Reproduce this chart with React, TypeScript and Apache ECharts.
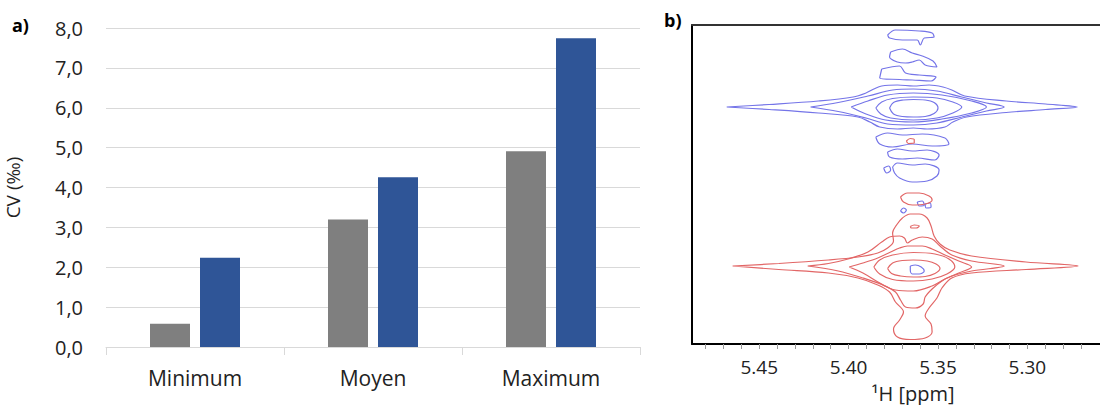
import React, { useEffect, useRef } from "react";
import * as echarts from "echarts";

// ---------- Panel a) data ----------
const categories = ["Minimum", "Moyen", "Maximum"];
const seriesGray = [0.58, 3.2, 4.91];
const seriesBlue = [2.24, 4.26, 7.74];

// ---------- Panel b) axis ticks (ppm) ----------
const ppmLabels = [5.3, 5.35, 5.4, 5.45];
const ppmTicks = [5.27, 5.28, 5.29, 5.3, 5.31, 5.32, 5.33, 5.34, 5.35, 5.36, 5.37, 5.38, 5.39, 5.4, 5.41, 5.42, 5.43, 5.44, 5.45, 5.46, 5.47, 5.48];

// ---------- Panel b) contour lines: [ppm (F2), F1 index] ----------
// blue multiplet
const blueC1 = [[5.3771, 236], [5.3749, 241.5], [5.3693, 244], [5.3638, 244.5], [5.3572, 244], [5.3522, 241.5], [5.35, 236], [5.3522, 230.5], [5.3572, 227.5], [5.3638, 227], [5.3699, 227.5], [5.3749, 230], [5.3771, 236]];
const blueC2 = [[5.3848, 236], [5.3815, 242], [5.3754, 245.5], [5.3638, 247], [5.3506, 246], [5.3417, 242], [5.3367, 237], [5.3417, 231], [5.3506, 226], [5.3638, 224], [5.3765, 226], [5.382, 230], [5.3848, 236]];
const blueC3 = [[5.3986, 237], [5.3892, 243], [5.3782, 249], [5.3638, 251], [5.3478, 249], [5.3312, 243], [5.3229, 237], [5.3312, 231], [5.3478, 225], [5.3638, 222], [5.3793, 224], [5.3903, 230], [5.3986, 237]];
const blueC4 = [[5.4213, 237], [5.4058, 241.5], [5.3892, 248], [5.3754, 254], [5.3638, 255], [5.3506, 253], [5.3367, 247], [5.3229, 241], [5.313, 237], [5.3229, 233], [5.3367, 227], [5.3506, 221], [5.3638, 219], [5.3782, 220], [5.3903, 226], [5.4058, 232.5], [5.4213, 237]];
const blueC5 = [[5.4682, 237], [5.4445, 239.5], [5.4169, 243], [5.3975, 247], [5.3903, 251], [5.3859, 255], [5.3815, 258], [5.3727, 259], [5.3638, 258], [5.355, 259], [5.3472, 257], [5.3423, 254], [5.3351, 248], [5.3119, 243], [5.2898, 240], [5.2721, 237], [5.2898, 234.5], [5.3119, 231.5], [5.334, 227], [5.3417, 222], [5.3461, 217], [5.3561, 215], [5.3638, 216], [5.3727, 215], [5.3826, 217], [5.3881, 222], [5.3948, 227], [5.4169, 231], [5.4445, 234.5], [5.4682, 237]];
const blueUp1 = [[5.3782, 309], [5.3738, 314], [5.3605, 313], [5.3533, 311], [5.3522, 307], [5.3577, 306], [5.3599, 299], [5.3616, 304], [5.3699, 304], [5.3771, 306], [5.3782, 309]];
const blueUp2 = [[5.3765, 292], [5.3699, 295], [5.3644, 291], [5.3588, 288], [5.3528, 283], [5.3506, 277], [5.3572, 279], [5.3605, 284], [5.3644, 282], [5.3682, 281], [5.3727, 282], [5.3771, 287], [5.3765, 292]];
const blueUp3 = [[5.3815, 275], [5.3715, 278], [5.3682, 271], [5.3605, 269], [5.3511, 267], [5.3539, 263], [5.3644, 264], [5.3715, 264.5], [5.3826, 266], [5.3815, 275]];
const blueLow1 = [[5.3848, 207], [5.3782, 211], [5.3699, 209], [5.3588, 210], [5.3461, 206], [5.3439, 200], [5.3533, 198], [5.3644, 200], [5.3754, 197], [5.3826, 200], [5.3848, 207]];
const blueLow2 = [[5.3782, 192], [5.3727, 195], [5.3644, 193], [5.3561, 194], [5.3494, 189], [5.3517, 184], [5.3616, 186], [5.3699, 185], [5.3771, 187], [5.3782, 192]];
const blueLow3 = [[5.3754, 177], [5.3727, 181], [5.3644, 179], [5.3572, 180], [5.3494, 174], [5.3506, 168], [5.3561, 163], [5.3644, 162], [5.3715, 166], [5.3743, 171], [5.3754, 177]];
const blueLow4 = [[5.3804, 176], [5.3776, 178], [5.3765, 174], [5.3787, 171], [5.3804, 176]];
const blueSmall1 = [[5.3616, 142], [5.3588, 143], [5.3577, 139], [5.3605, 138], [5.3616, 142]];
const blueSmall2 = [[5.3572, 140], [5.3544, 141], [5.3539, 137], [5.3566, 136], [5.3572, 140]];
const blueSmall3 = [[5.371, 133], [5.3693, 136], [5.3677, 134], [5.3693, 131], [5.371, 133]];
const blueInRed = [[5.3655, 78], [5.3627, 79], [5.3594, 77], [5.3577, 73], [5.3605, 70], [5.3644, 70], [5.3655, 74], [5.3655, 78]];

// red multiplet
const redC1 = [[5.3782, 75.5], [5.3754, 81], [5.3699, 83.5], [5.3638, 84], [5.3561, 83], [5.3511, 80], [5.3489, 75.5], [5.3517, 70.5], [5.3572, 67.5], [5.3638, 67], [5.371, 68], [5.376, 70.5], [5.3782, 75.5]];
const redC2 = [[5.3859, 77], [5.3826, 84], [5.3754, 89], [5.3638, 91.5], [5.3517, 90], [5.3439, 85], [5.3406, 77], [5.345, 70], [5.3533, 65], [5.3638, 63], [5.3754, 64.5], [5.3826, 70], [5.3859, 77]];
const redC3 = [[5.3997, 77], [5.392, 81], [5.3837, 86], [5.3765, 92], [5.3715, 96], [5.3671, 98], [5.3588, 98], [5.3533, 95], [5.3461, 89], [5.3384, 83], [5.3312, 77], [5.3384, 71], [5.3461, 65], [5.3533, 58], [5.3638, 53], [5.3738, 54], [5.3826, 61], [5.392, 71], [5.3997, 77]];
const redC4 = [[5.4229, 78], [5.4113, 80.5], [5.4003, 85], [5.3892, 92], [5.3815, 102], [5.3771, 107], [5.3715, 108], [5.3688, 106], [5.3671, 101], [5.3644, 104], [5.3588, 107], [5.3533, 105], [5.3489, 98], [5.3423, 89], [5.3312, 83], [5.313, 78], [5.3312, 73], [5.3423, 68], [5.3478, 63], [5.3533, 55], [5.3572, 47], [5.3583, 40], [5.3627, 36], [5.3682, 37], [5.371, 44], [5.3738, 52], [5.3809, 59], [5.392, 66], [5.4058, 73], [5.4229, 78]];
const redC5 = [[5.4649, 78], [5.439, 80.5], [5.4113, 84], [5.3948, 87], [5.3837, 91], [5.3782, 96], [5.3749, 103], [5.3754, 111], [5.3732, 119], [5.3699, 126], [5.3655, 130], [5.3605, 130], [5.3561, 126], [5.3539, 118], [5.3522, 108], [5.3489, 100], [5.3434, 94], [5.3312, 88], [5.3008, 82], [5.2716, 78], [5.3008, 74.5], [5.3312, 71], [5.3423, 66], [5.3478, 56], [5.3506, 46], [5.355, 36], [5.3572, 28], [5.3539, 20], [5.3533, 12], [5.3572, 6], [5.3655, 4.5], [5.3727, 7], [5.3749, 15], [5.3715, 24], [5.3693, 32], [5.3738, 42], [5.3771, 52], [5.3837, 59], [5.3948, 66], [5.4113, 71], [5.439, 74.5], [5.4649, 78]];
const redSmallTop = [[5.371, 147], [5.3671, 151], [5.3605, 151], [5.355, 148], [5.3533, 144], [5.3572, 140], [5.3644, 139], [5.3693, 142], [5.371, 147]];
const redSmallMid = [[5.3655, 117.5], [5.3633, 119], [5.3605, 118], [5.3622, 116], [5.3649, 116], [5.3655, 117.5]];
const redInBlue = [[5.3677, 203], [5.3655, 205.5], [5.3633, 204.5], [5.3633, 201], [5.3666, 200.5], [5.3677, 203]];

const blueContours = [blueC1, blueC2, blueC3, blueC4, blueC5, blueUp1, blueUp2, blueUp3, blueLow1, blueLow2, blueLow3, blueLow4, blueSmall1, blueSmall2, blueSmall3, blueInRed];
const redContours = [redC1, redC2, redC3, redC4, redC5, redSmallTop, redSmallMid, redInBlue];

const FONT = "'Open Sans', 'DejaVu Sans', sans-serif";

export default function App() {
  const ref = useRef<HTMLDivElement>(null);

  useEffect(() => {
    if (!ref.current) return;
    const chart = echarts.init(ref.current, undefined, { renderer: "svg" });

    const contourSeries = (list: number[][][], color: string) =>
      list.map((d) => ({
        type: "line",
        xAxisIndex: 1,
        yAxisIndex: 1,
        data: d,
        smooth: 0.35,
        symbol: "none",
        silent: true,
        lineStyle: { color, width: 1.2 },
        z: 3,
      }));

    const option: any = {
      animation: false,
      backgroundColor: "#ffffff",
      textStyle: { fontFamily: FONT },
      grid: [
        { left: 106, top: 28, width: 534, height: 319 },
        { left: 692, top: 25, width: 413, height: 319 },
      ],
      xAxis: [
        {
          type: "category",
          gridIndex: 0,
          data: categories,
          axisLine: { lineStyle: { color: "#d9d9d9", width: 1 } },
          axisTick: { show: true, length: 8, lineStyle: { color: "#d9d9d9" } },
          axisLabel: { fontSize: 21, color: "#222", margin: 20, fontFamily: FONT },
        },
        {
          type: "value",
          gridIndex: 1,
          inverse: true,
          min: 5.2594,
          max: 5.4876,
          position: "bottom",
          axisLine: { show: true, onZero: false, lineStyle: { color: "#000", width: 2 } },
          axisTick: { show: true, length: 5, customValues: ppmTicks, lineStyle: { color: "#999", width: 1 } },
          axisLabel: {
            customValues: ppmLabels,
            fontSize: 19,
            color: "#222",
            margin: 13,
            fontFamily: FONT,
            formatter: (v: number) => v.toFixed(2),
          },
          splitLine: { show: false },
        },
        {
          type: "value",
          gridIndex: 1,
          inverse: true,
          min: 5.2594,
          max: 5.4876,
          position: "top",
          axisLine: { show: true, onZero: false, lineStyle: { color: "#333", width: 2 } },
          axisTick: { show: false },
          axisLabel: { show: false },
          splitLine: { show: false },
        },
      ],
      yAxis: [
        {
          type: "value",
          gridIndex: 0,
          min: 0,
          max: 8,
          interval: 1,
          axisLine: { show: false },
          axisTick: { show: false },
          splitLine: { lineStyle: { color: "#d9d9d9", width: 1 } },
          axisLabel: {
            fontSize: 20,
            color: "#222",
            margin: 23,
            fontFamily: FONT,
            formatter: (v: number) => v.toFixed(1).replace(".", ","),
          },
          name: "CV (‰)",
          nameLocation: "middle",
          nameRotate: 90,
          nameGap: 84,
          nameTextStyle: { fontSize: 19, color: "#222", fontFamily: FONT },
        },
        {
          type: "value",
          gridIndex: 1,
          min: 0,
          max: 319,
          axisLine: { show: true, onZero: false, lineStyle: { color: "#000", width: 2 } },
          axisTick: { show: false },
          axisLabel: { show: false },
          splitLine: { show: false },
        },
      ],
      series: [
        {
          type: "bar",
          name: "gris",
          xAxisIndex: 0,
          yAxisIndex: 0,
          data: seriesGray,
          barWidth: 40,
          barGap: "25%",
          itemStyle: { color: "#7f7f7f" },
        },
        {
          type: "bar",
          name: "bleu",
          xAxisIndex: 0,
          yAxisIndex: 0,
          data: seriesBlue,
          barWidth: 40,
          barGap: "25%",
          itemStyle: { color: "#2f5597" },
        },
        ...contourSeries(blueContours, "#7474e8"),
        ...contourSeries(redContours, "#e26666"),
      ],
      graphic: [
        {
          type: "text",
          left: 12,
          top: 16,
          style: { text: "a)", fontSize: 18, fontWeight: "bold", fontFamily: FONT, fill: "#000" },
        },
        {
          type: "text",
          left: 664,
          top: 11,
          style: { text: "b)", fontSize: 18, fontWeight: "bold", fontFamily: FONT, fill: "#000" },
        },
        {
          type: "text",
          x: 913,
          y: 393,
          style: {
            text: "¹H [ppm]",
            fontSize: 20,
            fontFamily: FONT,
            fill: "#222",
            textAlign: "center",
            textVerticalAlign: "middle",
          },
        },
      ],
    };

    chart.setOption(option);
    return () => chart.dispose();
  }, []);

  return (
    <div
      ref={ref}
      style={{ position: "fixed", left: 0, top: 0, width: 1100, height: 405, background: "#fff" }}
    />
  );
}
